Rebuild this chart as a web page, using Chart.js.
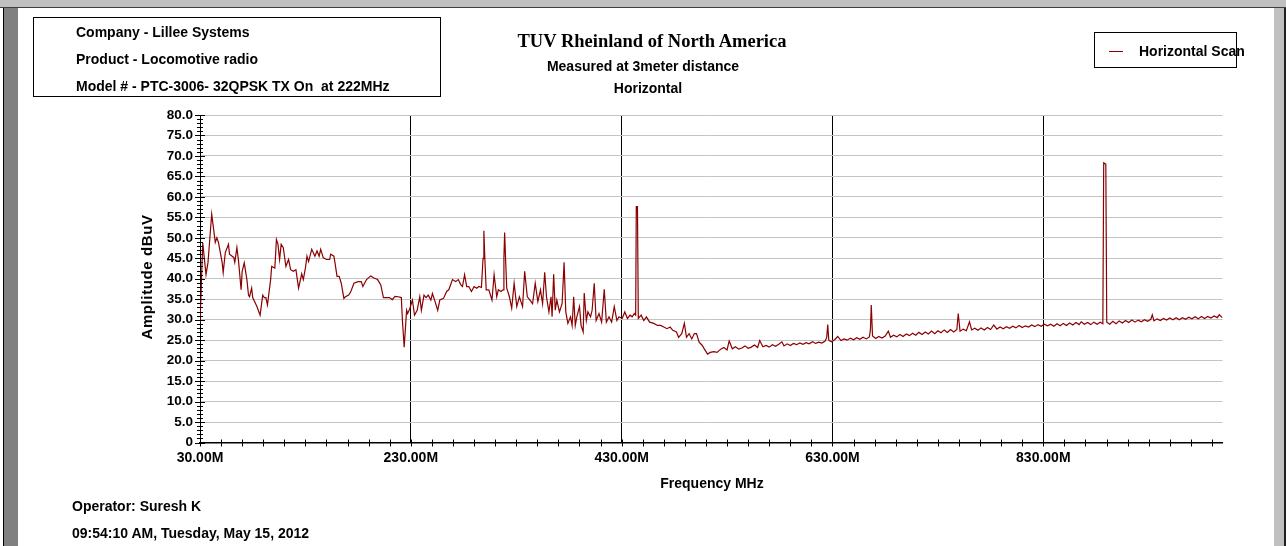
<!DOCTYPE html>
<html>
<head>
<meta charset="utf-8">
<script src="https://cdn.jsdelivr.net/npm/chart.js@4.4.1/dist/chart.umd.min.js"></script>
<style>
  html, body { margin: 0; padding: 0; background: #fff; }
  #page { position: relative; width: 1286px; height: 546px; overflow: hidden; background: #fff; }
  #page div { position: absolute; white-space: nowrap; }
  canvas { position: absolute; left: 0; top: 0; }
  .sans { font-family: 'Liberation Sans', Arial, sans-serif; font-weight: bold; font-size: 14px; color: #000; }
  .frameTop { left: 0; top: 0; width: 1286px; height: 7px; background: #c0c0c0; border-bottom: 1px solid #404040; }
  .frameLeft { left: 3px; top: 8px; width: 14px; height: 538px; background: #808080; border-left: 1px solid #000; }
  .frameRight { left: 1274px; top: 8px; width: 10px; height: 538px; background: #c0c0c0; border-right: 2px solid #202020; }
  .infoBox { left: 33px; top: 17px; width: 406px; height: 78px; border: 1px solid #000; }
  .legendBox { left: 1094px; top: 32px; width: 141px; height: 34px; border: 1px solid #000; }
  .legendLine { left: 1109px; top: 51px; width: 14px; height: 1px; background: #8b0000; }
</style>
</head>
<body>
<div id="page">
  <canvas id="scanChart" width="1286" height="546"></canvas>
  <div class="frameTop"></div>
  <div class="frameLeft"></div>
  <div class="frameRight"></div>

  <div class="infoBox"></div>
  <div class="sans" style="left:76px; top:23px; line-height:18px;">Company - Lillee Systems</div>
  <div class="sans" style="left:76px; top:50px; line-height:18px;">Product - Locomotive radio</div>
  <div class="sans" style="left:76px; top:77px; line-height:18px;">Model # - PTC-3006- 32QPSK TX On&nbsp;&nbsp;at 222MHz</div>

  <div style="left:452px; width:400px; top:30px; line-height:22px; text-align:center; font-family:'Liberation Serif','Times New Roman',serif; font-weight:bold; font-size:18.5px;">TUV Rheinland of North America</div>
  <div class="sans" style="left:443px; width:400px; top:57px; line-height:18px; text-align:center;">Measured at 3meter distance</div>
  <div class="sans" style="left:448px; width:400px; top:79px; line-height:18px; text-align:center;">Horizontal</div>

  <div class="legendBox"></div>
  <div class="legendLine"></div>
  <div class="sans" style="left:1139px; top:42px; line-height:18px;">Horizontal Scan</div>

  <div class="sans" style="left:77px; top:268px; width:140px; line-height:18px; text-align:center; font-size:15px; letter-spacing:0.6px; transform:rotate(-90deg);">Amplitude dBuV</div>
  <div class="sans" style="left:612px; width:200px; top:474px; line-height:18px; text-align:center;">Frequency MHz</div>

  <div class="sans" style="left:72px; top:497px; line-height:18px;">Operator: Suresh K</div>
  <div class="sans" style="left:72px; top:524px; line-height:18px;">09:54:10 AM, Tuesday, May 15, 2012</div>
</div>

<script>
// scan trace: [frequency MHz, amplitude dBuV]
const scanLow = [
  [30,29],[32.6,48.8],[35.7,41],[37.6,44],[41.1,55.8],[44.5,48.9],[46,50],[47.5,48.9],[51,44],[52,41.5],
  [54,46.4],[57,48.4],[58,46],[62,45.2],[63,44],[65,47.6],[66.5,44.5],[69,37.3],[70,41.8],[72,43.9],
  [74.5,39.8],[76,36],[77,35.6],[79,37.7],[80,35.4],[84,33.2],[87,31.1],[89.5,36],[91,35.4],[92.5,35.4],
  [94,33.6],[97,39.8],[98,43],[101,42.6],[102.5,49.6],[104,48.4],[105.5,44.7],[107,48.4],[109,47.6],[111.5,43],
  [114,44.7],[116,42.2],[118.5,41.8],[121,42.2],[123.5,37.7],[126.5,41.2],[128,39.8],[130,42.6],[131.5,45.5],[133,44.2],
  [136,47.2],[139,45.5],[141,46.8],[143,45.5],[144.5,47.2],[147,45.1],[150,44.7],[153,44.7],[154,46],[157,45.5],
  [158,44],[160,40.6],[162,40.6],[164,38.9],[166.5,35.2],[168,35.6],[171,36],[173,36.8],[176,38.9],[180,39.3],
  [183,39.3],[184.5,38.1],[188,39.8],[192,40.7],[195,40.2],[198.5,39.8],[201.5,38.5],[204,35.4],[206,35.4],[209.5,35.4],
  [212.5,34.9],[215,35.7],[218,35.6],[221,35.4],[222,29.9],[223.7,23.3],[226,32.3],[227,31.5],[229,32.7],[231.5,34.8],
  [233.5,31.1],[236,32.3],[238.5,35.6],[240,32.3],[242.5,36],[244.5,35.4],[246.5,36],[249,34.8],[250.5,36.4],[253,34.4],
  [255.5,32.3],[257.5,34.8]
];

const scanMid = [
  [261,35.2],[264,36.9],[266,37.3],[269.5,39.8],[272.5,39.3],[275,39.8],[277.5,38.5],[279,38.1],[281,41],[283,38.1],
  [285,38.1],[287.5,36.9],[290,38.1],[292.5,37.7],[294.5,38.1],[297,37.9],[298.5,45],[299.3,51.7],[300.2,45],[301.5,37.3],
  [304,37.3],[307,34.8],[309,41],[311.5,35.6],[313,37.3],[315.5,36.9],[317.5,37.3],[318.3,45],[319,51.3],[320,44],
  [321,37.7],[323.5,35.6],[325.7,32.8],[328,38.9],[330.5,33.2],[333,35.6],[336,33.2],[338,41.8],[340.5,35.6],[343,34.8],
  [345.5,33.9],[348,38.9],[350.5,34.4],[353,37.3],[355,33.9],[357,41.6],[358.7,35.6],[361,31.9],[363,35.6],[364,30.7],
  [365.5,41.1],[367,32.3],[368.5,34.8],[371,31.9],[373.5,33.9],[375.4,44],[377,31.9],[379,29.1],[381.5,30.7],[383,28.6],
  [384.5,35.6],[386,28.6],[387.5,30.7],[390,33.2],[391.5,28.6],[393.5,27],[394.5,36.5],[396.5,29.8],[398,31.9],[400.5,30.7],
  [402,32.3],[404,38.9],[405.8,29.8],[408.5,31.5],[411,29.4],[413.5,37.4],[415.5,29.4],[418,30.7],[420.5,29.4],[423,33.2],
  [425.5,29.8],[427.5,30.7],[430.5,30.3],[433,31.9],[435.5,30.3],[438,31.1],[440,30.7],[442,31.5],[443.3,31.1],[443.9,57.6],
  [445,57.6],[445.8,30.3],[448.5,31.1],[451,29.8],[453.5,30.7],[456.5,29.4],[460.5,29.1],[464,28.6],[467,28.6],[470,28.2],
  [473,27.8],[476,28.2],[478.5,27.4],[482,27],[484,25.7],[487,26.6],[489.5,29.1],[491.5,25.7],[494,26.6],[496.5,25.3],
  [499,26.6],[501,26.6],[503.5,24.5],[506.5,23.7],[508.5,22.8],[511.5,21.6],[514,22],[517.5,22.2],[520.5,22]
];

const scanHigh = [
  [524,22.8],[527,23.2],[530,22.6],[532,24.8],[535,22.9],[538,23.4],[541,22.8],[544,23.1],[547,23.6],[550,23.0],
  [553,23.3],[556,23.8],[559,23.2],[561,24.9],[564,23.4],[567,23.7],[570,23.3],[573,23.9],[576,23.5],[579,24.0],
  [582,24.6],[584,23.6],[587,24.1],[590,23.7],[593,24.2],[596,23.9],[599,24.3],[602,24.0],[605,24.4],[608,24.1],
  [611,24.6],[614,24.2],[617,24.5],[620,24.3],[623,24.8],[624.5,25.6],[625.5,28.8],[626.5,25.0],[629,24.6],[632,25.1],
  [635,25.9],[638,24.9],[641,25.3],[644,25.0],[647,25.5],[650,25.1],[653,25.6],[656,25.2],[659,25.7],[662,25.3],
  [665,25.8],[666,27.5],[666.8,33.6],[668,26.0],[671,25.4],[674,25.9],[677,25.5],[680,26.0],[683,27.2],[685,25.7],
  [688,26.2],[691,25.8],[694,26.4],[697,25.9],[700,26.5],[703,26.1],[706,26.7],[709,26.2],[712,26.9],[715,26.4],
  [718,27.0],[721,26.5],[724,27.2],[727,26.6],[730,27.3],[733,26.8],[736,27.5],[739,26.9],[742,27.6],[745,27.0],
  [748,27.6],[749.3,31.5],[751,27.2],[754,27.7],[757,27.3],[760,29.5],[762,27.5],[765,27.9],[768,27.4],[771,28.0],
  [774,27.5],[777,28.1],[780,27.6],[783,28.7],[786,27.7],[789,28.2],[792,27.8],[795,28.3],[798,27.9],[801,28.4],
  [804,28.0],[807,28.6],[810,28.1],[813,28.5],[816,28.2],[819,28.7],[822,28.3],[825,28.8],[828,28.4],[831,28.9],
  [834,28.5],[837,28.9],[840,28.4],[843,29.0],[846,28.5],[849,29.1],[852,28.6],[855,29.2],[858,28.7],[861,29.3],
  [864,28.8],[866,29.5],[869,28.9],[872,29.3],[875,28.8],[878,29.4],[881,28.9],[884,29.4],[886.5,29.0],[887.3,68.3],
  [889.3,68.0],[890.2,29.4],[893,28.9],[896,29.6],[899,29.0],[902,29.7],[905,29.2],[908,29.8],[911,29.3],[914,29.9],
  [917,29.4],[920,29.9],[923,29.5],[926,30.0],[929,29.6],[932,30.1],[933.4,31.2],[935,29.7],[938,30.2],[941,29.8],
  [944,30.3],[947,29.9],[950,30.4],[953,30.0],[956,30.5],[959,30.0],[962,30.5],[965,30.1],[968,30.6],[971,30.2],
  [974,30.7],[977,30.2],[980,30.8],[983,30.3],[986,30.8],[989,30.4],[992,30.9],[995,30.5],[997,31.2],[999,30.7],
  [1000,30.5]
];

const xLabelValues = [30, 230, 430, 630, 830];
const xDividers = [230, 430, 630, 830];

const FONT = { family: "'Liberation Sans', Arial, sans-serif", size: 14, weight: 'bold' };
const YFONT = { family: "'Liberation Sans', Arial, sans-serif", size: 13.5, weight: 'bold' };

// minor tick every 20 MHz on x, every 1 dB on y, drawn across the axis lines
const crossTicks = {
  id: 'crossTicks',
  afterDatasetsDraw(chart) {
    const { ctx, scales: { x, y } } = chart;
    ctx.save();
    ctx.strokeStyle = '#000';
    ctx.lineWidth = 1;
    ctx.beginPath();
    for (const t of x.ticks) {
      const px = Math.round(x.getPixelForValue(t.value)) + 0.5;
      ctx.moveTo(px, y.bottom - 3);
      ctx.lineTo(px, y.bottom + 4);
    }
    for (let v = 0; v <= 80; v++) {
      const py = Math.round(y.getPixelForValue(v)) + 0.5;
      const len = v % 5 === 0 ? 5 : 3;
      ctx.moveTo(x.left - len, py);
      ctx.lineTo(x.left + len, py);
    }
    ctx.stroke();
    ctx.restore();
  }
};

new Chart(document.getElementById('scanChart'), {
  type: 'line',
  plugins: [crossTicks],
  data: {
    datasets: [{
      label: 'Horizontal Scan',
      data: scanLow.concat(scanMid, scanHigh).map(p => ({ x: p[0], y: p[1] })),
      borderColor: '#8b0000',
      borderWidth: 1.2,
      pointRadius: 0,
      tension: 0,
      fill: false
    }]
  },
  options: {
    responsive: false,
    devicePixelRatio: 1,
    animation: false,
    parsing: false,
    layout: { padding: { left: 0, top: 115, right: 63.5, bottom: 0 } },
    plugins: {
      legend: { display: false },
      tooltip: { enabled: false },
      title: { display: false }
    },
    scales: {
      x: {
        type: 'linear',
        min: 30,
        max: 1000,
        afterBuildTicks: (scale) => {
          const ticks = [];
          for (let f = 30; f < 1000; f += 20) ticks.push({ value: f });
          scale.ticks = ticks;
        },
        afterFit: (scale) => { scale.height = 103.5; },
        ticks: {
          autoSkip: false,
          maxRotation: 0,
          padding: 7,
          color: '#000',
          font: FONT,
          callback: (v) => xLabelValues.includes(v) ? v.toFixed(2) + 'M' : ''
        },
        grid: {
          drawTicks: false,
          lineWidth: 1,
          color: (ctx) => ctx.tick && xDividers.includes(ctx.tick.value) ? '#000' : 'rgba(0,0,0,0)'
        },
        border: { display: true, color: '#000', width: 1.5 }
      },
      y: {
        type: 'linear',
        min: 0,
        max: 80,
        afterFit: (scale) => { scale.width = 200; },
        ticks: {
          stepSize: 5,
          padding: 7,
          color: '#000',
          font: YFONT,
          callback: (v) => v === 0 ? '0' : v.toFixed(1)
        },
        grid: {
          drawTicks: false,
          lineWidth: 1,
          color: (ctx) => ctx.tick && ctx.tick.value === 0 ? 'rgba(0,0,0,0)' : '#c4c4c4'
        },
        border: { display: true, color: '#000', width: 1 }
      }
    }
  }
});
</script>
</body>
</html>
